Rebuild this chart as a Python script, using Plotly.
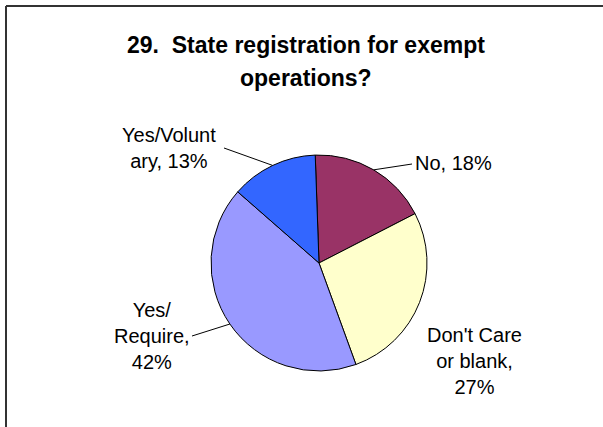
import math
import plotly.graph_objects as go

# Survey answers for question 29
categories = ["No", "Don't Care or blank", "Yes/ Require", "Yes/Voluntary"]
values = [18, 27, 42, 13]
colors = ["#993366", "#FFFFCC", "#9999FF", "#3366FF"]
label_formats = ["No, {}%", "Don't Care<br>or blank,<br>{}%", "Yes/<br>Require,<br>{}%", "Yes/Volunt<br>ary, {}%"]
title_lines = ["29.  State registration for exempt", "operations?"]

W, H = 603, 427
FONT = "Liberation Sans, Arial, sans-serif"

# pie geometry in pixels
cx, cy, r = 319, 263, 108
rotation = -2


def px(x):
    return x / W


def py(y):
    return 1 - y / H


fig = go.Figure()
fig.add_trace(go.Pie(
    labels=categories,
    values=values,
    sort=False,
    direction="clockwise",
    rotation=rotation,
    marker=dict(colors=colors, line=dict(color="black", width=1)),
    textinfo="none",
    hoverinfo="label+percent",
    showlegend=False,
    domain=dict(x=[px(cx - r), px(cx + r)], y=[py(cy + r), py(cy - r)]),
))

# label placement: (x, y, xanchor, leader-line start or None)
placements = [
    (413, 163, "left", (412, 164)),
    (474, 361, "center", None),
    (152, 336, "center", (192, 336)),
    (169, 148, "center", (224, 148)),
]

total = sum(values)
start = rotation
annotations = []
shapes = []
for v, fmt, (lx, ly, xa, lead) in zip(values, label_formats, placements):
    span = 360 * v / total
    mid = math.radians(start + span / 2)
    start += span
    annotations.append(dict(
        x=px(lx), y=py(ly), xref="paper", yref="paper",
        xanchor=xa, yanchor="middle", align="center",
        text=fmt.format(v), showarrow=False,
        font=dict(family=FONT, size=20, color="black"),
    ))
    if lead is not None:
        ex = cx + r * math.sin(mid)
        ey = cy - r * math.cos(mid)
        shapes.append(dict(
            type="line", xref="paper", yref="paper",
            x0=px(lead[0]), y0=py(lead[1]), x1=px(ex), y1=py(ey),
            line=dict(color="black", width=1),
        ))

# two-line bold title
for text, ty in zip(title_lines, [45, 78]):
    annotations.append(dict(
        x=px(306), y=py(ty), xref="paper", yref="paper",
        xanchor="center", yanchor="middle", text="<b>" + text + "</b>",
        showarrow=False, font=dict(family=FONT, size=23, color="black"),
    ))

# chart-area frame (left and top edges)
frame = dict(color="#333333", width=2)
shapes.append(dict(type="line", xref="paper", yref="paper",
                   x0=px(6), y0=py(6), x1=px(6), y1=0, line=frame))
shapes.append(dict(type="line", xref="paper", yref="paper",
                   x0=px(6), y0=py(6), x1=1, y1=py(6), line=frame))

fig.update_layout(
    width=W, height=H, autosize=False,
    margin=dict(l=0, r=0, t=0, b=0),
    paper_bgcolor="white", plot_bgcolor="white",
    annotations=annotations, shapes=shapes,
)

fig.write_html("out.html")
